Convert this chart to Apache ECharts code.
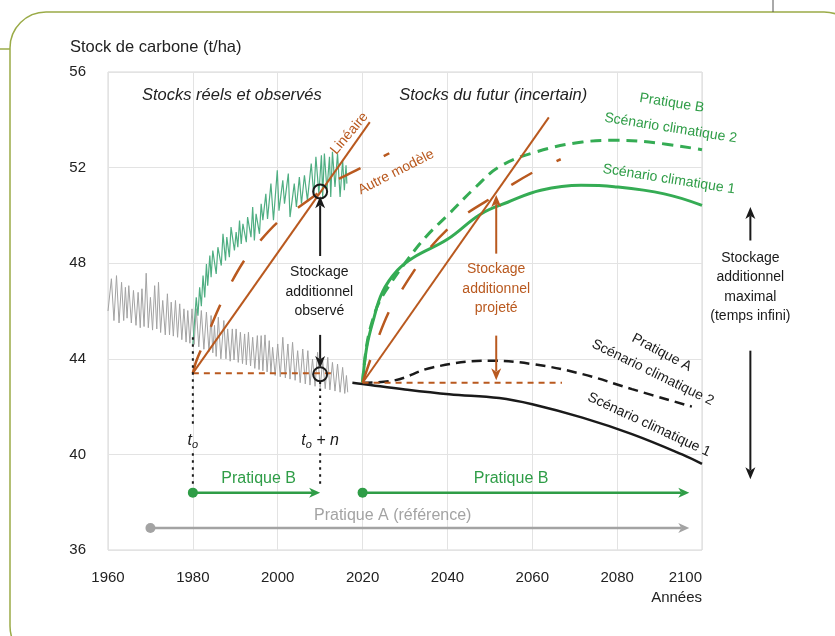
<!DOCTYPE html>
<html><head><meta charset="utf-8">
<script src="https://cdn.jsdelivr.net/npm/echarts@6/dist/echarts.min.js"></script>
<style>html,body{margin:0;padding:0;background:#fff}#c{width:835px;height:636px}</style>
</head><body><div id="c"></div>
<script>
// ---------- DATA ----------
const xTicks = [1960, 1980, 2000, 2020, 2040, 2060, 2080, 2100];
const yTicks = [36, 40, 44, 48, 52, 56];

// Pratique A, observed stocks (grey noisy series)
const grayObserved = [
 [1960.0,46.0],[1960.8,47.35],[1961.4,45.6],[1962.0,47.48],[1962.6,45.5],[1963.2,47.2],[1963.7,45.6],[1964.1,46.99],
 [1964.5,45.7],[1964.9,47.06],[1965.5,45.5],[1966.0,46.86],[1966.6,45.4],[1967.1,46.78],[1967.6,45.3],[1968.0,46.93],
 [1968.5,45.35],[1969.0,47.58],[1969.5,45.3],[1970.0,46.57],[1970.5,45.2],[1971.0,47.06],[1971.5,45.25],[1971.9,47.2],
 [1972.4,45.1],[1972.9,46.44],[1973.5,45.0],[1974.0,46.72],[1974.5,45.0],[1974.9,46.37],[1975.4,44.95],[1975.9,46.44],
 [1976.4,44.9],[1976.9,46.3],[1977.4,44.8],[1977.9,46.09],[1978.4,44.7],[1978.8,46.02],[1979.3,44.65],[1979.8,46.09],
 [1980.3,44.6],[1980.8,46.1],[1981.4,44.5],[1982.0,46.02],[1982.6,44.4],[1983.2,45.95],[1983.8,44.3],[1984.3,45.81],
 [1984.7,44.25],[1985.1,45.4],[1985.5,44.1],[1986.0,45.74],[1986.6,44.0],[1987.3,45.6],[1987.8,44.0],[1988.2,45.25],
 [1988.8,43.9],[1989.3,45.25],[1989.7,43.95],[1990.2,45.25],[1990.7,43.85],[1991.2,45.11],[1991.7,43.8],[1992.2,45.04],
 [1992.6,43.75],[1993.1,45.11],[1993.6,43.7],[1994.1,44.9],[1994.6,43.6],[1995.2,44.97],[1995.6,43.55],[1996.1,44.97],
 [1996.5,43.5],[1997.0,45.0],[1997.5,43.45],[1998.0,44.76],[1998.4,43.4],[1998.8,44.48],[1999.4,43.3],[2000.0,44.62],
 [2000.6,43.25],[2001.2,44.9],[2001.8,43.2],[2002.4,44.62],[2002.9,43.15],[2003.5,44.69],[2004.1,43.1],[2004.7,44.34],
 [2005.3,43.0],[2005.9,44.41],[2006.5,42.95],[2007.1,44.34],[2007.6,42.9],[2008.2,43.99],[2008.8,42.85],[2009.4,44.27],
 [2010.0,42.8],[2010.6,43.92],[2011.2,42.75],[2011.8,44.06],[2012.3,42.7],[2012.9,43.85],[2013.5,42.65],[2014.1,43.78],
 [2014.7,42.6],[2015.3,43.64],[2015.8,42.55],[2016.2,43.3],[2016.5,42.6]
];

// Pratique B, observed stocks (green noisy series)
const greenObserved = [
 [1980.0,44.6],[1980.8,46.57],[1981.2,45.8],[1981.6,46.99],[1982.0,46.2],[1982.4,47.48],[1982.8,46.57],[1983.2,47.97],
 [1983.5,47.06],[1984.0,48.32],[1984.3,47.41],[1984.7,48.53],[1985.5,47.55],[1985.9,48.67],[1986.7,47.9],[1987.1,49.23],
 [1987.7,48.11],[1988.0,49.09],[1988.6,48.25],[1989.0,49.51],[1989.8,48.53],[1990.2,49.3],[1990.6,48.67],[1991.0,49.79],
 [1991.4,48.81],[1991.8,49.65],[1992.6,48.88],[1992.9,49.93],[1993.7,49.09],[1994.1,50.35],[1994.5,48.95],[1994.9,50.07],
 [1995.7,49.23],[1996.1,50.49],[1996.5,49.8],[1997.2,50.9],[1997.6,49.85],[1998.4,51.33],[1999.0,49.8],[1999.9,51.89],
 [2000.3,50.2],[2001.2,51.47],[2001.6,50.49],[2002.5,51.75],[2002.9,49.93],[2003.9,51.33],[2004.4,50.35],[2005.1,51.6],
 [2005.6,50.49],[2006.3,51.68],[2007.0,50.63],[2007.9,52.17],[2008.5,50.84],[2009.0,52.45],[2009.7,50.91],[2010.3,52.52],
 [2010.6,50.77],[2011.0,52.59],[2011.6,51.05],[2012.2,52.45],[2012.5,50.77],[2012.9,52.66],[2013.5,51.19],[2014.1,52.59],
 [2014.7,50.77],[2015.3,52.31],[2015.7,51.05],[2016.1,52.1],[2016.3,51.33]
];

// Observed period models
const linearObsYears = [1980, 2021.7];
const linearObsValues = [43.4, 53.9];
const otherObsYears = [1980, 1980.8, 1983.2, 1985.8, 1988.2, 1991.7, 1995.2, 1999.9, 2004.6, 2010, 2012.2, 2015.2, 2020.9, 2026.3];
const otherObsValues = [43.4, 43.9, 44.9, 46.0, 46.9, 48.0, 48.8, 49.7, 50.3, 51.0, 51.3, 51.6, 52.1, 52.6];
const baseObsYears = [1980, 2013.7];
const baseObsValues = [43.4, 43.4];

// Future period
const linearFutYears = [2020, 2063.9];
const linearFutValues = [43.0, 54.1];
const otherFutYears = [2020, 2023.5, 2026.3, 2028.6, 2032.2, 2035.7, 2040.2, 2044.7, 2051.5, 2055.3, 2061.2, 2066.7];
const otherFutValues = [43.0, 44.8, 46.0, 46.7, 47.7, 48.6, 49.45, 50.1, 50.85, 51.3, 51.9, 52.35];
const baseFutYears = [2020, 2067];
const baseFutValues = [43.0, 43.0];

const greenS1Years = [2020, 2021, 2022.5, 2024.7, 2028.2, 2032.1, 2040, 2047.8, 2054.2, 2062, 2071.5, 2079.3, 2091.1, 2100];
const greenS1Values = [43.0, 44.5, 45.6, 46.8, 47.7, 48.25, 49.0, 50.05, 50.55, 51.05, 51.26, 51.2, 50.9, 50.42];
const greenS2Years = [2020, 2021, 2022.5, 2024, 2026.4, 2030.2, 2034.9, 2040.4, 2046.7, 2052.2, 2060.8, 2071.8, 2079.6, 2087.5, 2100];
const greenS2Values = [43.0, 44.6, 45.7, 46.4, 47.1, 48.05, 49.1, 50.07, 51.19, 52.03, 52.65, 53.07, 53.14, 53.07, 52.75];

const blackS1Years = [2017.6, 2020, 2030, 2040.4, 2052.2, 2060, 2071.8, 2083.5, 2095.3, 2100];
const blackS1Values = [43.0, 42.95, 42.72, 42.52, 42.36, 42.1, 41.54, 40.85, 40.0, 39.6];
const blackS2Years = [2020, 2027, 2036.5, 2049.9, 2060, 2071.8, 2083.5, 2097.6];
const blackS2Values = [43.0, 43.08, 43.64, 43.92, 43.78, 43.36, 42.73, 42.0];

// Practice periods (timeline arrows)
const practiceBObs = [1980, 2010];
const practiceBFut = [2020, 2097];
const practiceARef = [1970, 2097];

// ---------- CHART ----------
const FONT = "'Liberation Sans', Arial, Helvetica, sans-serif";
const ORANGE = '#b9591f', GREEN = '#35ac54', GREEN_D = '#2f9d47', TEAL = '#4fae82', GREY = '#a3a3a3', BLACK = '#1a1a1a';
const zip = (xs, ys) => xs.map((x, i) => [x, ys[i]]);

function lineSeries(data, color, width, type, smooth, z) {
  return { type: 'line', data, showSymbol: false, symbol: 'none', smooth: smooth || false, z: z || 2,
    lineStyle: { color, width, type: type || 'solid', cap: 'butt' }, emphasis: { disabled: true }, silent: true };
}

const chart = echarts.init(document.getElementById('c'));
chart.setOption({
  animation: false,
  backgroundColor: '#fff',
  grid: { left: 108, right: 133, top: 72, bottom: 86, show: true, borderColor: '#d6d6d6', borderWidth: 1 },
  xAxis: { type: 'value', min: xTicks[0], max: xTicks[xTicks.length - 1], interval: 20,
    axisLine: { show: false }, axisTick: { show: false },
    splitLine: { lineStyle: { color: '#e3e3e3', width: 1 } },
    axisLabel: { margin: 20, color: '#222', fontSize: 15, fontFamily: FONT, alignMaxLabel: 'right', formatter: v => String(v) } },
  yAxis: { type: 'value', min: yTicks[0], max: yTicks[yTicks.length - 1], interval: 4,
    axisLine: { show: false }, axisTick: { show: false },
    splitLine: { lineStyle: { color: '#e3e3e3', width: 1 } },
    axisLabel: { margin: 22, color: '#222', fontSize: 15, fontFamily: FONT, formatter: v => String(v) } },
  series: [
    lineSeries(grayObserved, GREY, 1, 'solid', false, 2),
    lineSeries(greenObserved, TEAL, 1.2, 'solid', false, 3),
    lineSeries(zip(blackS1Years, blackS1Values), BLACK, 2.5, 'solid', 0.4, 4),
    lineSeries(zip(blackS2Years, blackS2Values), BLACK, 2.5, [10, 6], 0.4, 4),
    lineSeries(zip(greenS1Years, greenS1Values), GREEN, 3, 'solid', 0.4, 5),
    lineSeries(zip(greenS2Years, greenS2Values), GREEN, 3, [11, 7], 0.4, 5),
    lineSeries(zip(baseObsYears, baseObsValues), ORANGE, 2, [6, 5], false, 6),
    lineSeries(zip(baseFutYears, baseFutValues), ORANGE, 2, [6, 5], false, 6),
    lineSeries(zip(linearObsYears, linearObsValues), ORANGE, 2, 'solid', false, 6),
    lineSeries(zip(linearFutYears, linearFutValues), ORANGE, 2, 'solid', false, 6),
    lineSeries(zip(otherObsYears, otherObsValues), ORANGE, 2.5, [24, 26], 0.3, 6),
    lineSeries(zip(otherFutYears, otherFutValues), ORANGE, 2.5, [24, 27], 0.3, 6)
  ]
});

const P = (x, y) => chart.convertToPixel({ xAxisIndex: 0, yAxisIndex: 0 }, [x, y]);

function T(pos, text, o) {
  o = o || {};
  const st = { text, fill: o.color || BLACK, fontSize: o.size || 14, fontFamily: FONT,
    fontStyle: o.italic ? 'italic' : 'normal', align: o.align || 'center', verticalAlign: 'middle', lineHeight: o.lh || 19.5 };
  if (o.rich) st.rich = o.rich;
  return { type: 'text', x: pos[0], y: pos[1], rotation: (o.rot || 0) * Math.PI / 180, z: 100, silent: true, style: st };
}
function arrow(a, b, color, width, headLen, headW) {
  const dx = b[0] - a[0], dy = b[1] - a[1], L = Math.hypot(dx, dy), ux = dx / L, uy = dy / L;
  const bx = b[0] - ux * headLen, by = b[1] - uy * headLen;
  return [
    { type: 'line', z: 100, silent: true, shape: { x1: a[0], y1: a[1], x2: bx + ux * 3, y2: by + uy * 3 }, style: { stroke: color, lineWidth: width } },
    { type: 'polygon', z: 100, silent: true, shape: { points: [[b[0], b[1]], [bx - uy * headW / 2, by + ux * headW / 2],
      [b[0] - ux * headLen * 0.72, b[1] - uy * headLen * 0.72], [bx + uy * headW / 2, by - ux * headW / 2]] }, style: { fill: color } }
  ];
}
function dotted(a, b) {
  return { type: 'line', z: 100, silent: true, shape: { x1: a[0], y1: a[1], x2: b[0], y2: b[1] }, style: { stroke: BLACK, lineWidth: 2, lineDash: [2.5, 4.5] } };
}
function dot(p, color, r) { return { type: 'circle', z: 101, silent: true, shape: { cx: p[0], cy: p[1], r }, style: { fill: color } }; }
function ring(p) { return { type: 'circle', z: 101, silent: true, shape: { cx: p[0], cy: p[1], r: 7 }, style: { fill: 'none', stroke: BLACK, lineWidth: 2 } }; }

const sub = { t: { fontSize: 16, fontStyle: 'italic', fontFamily: FONT, fill: BLACK },
  s: { fontSize: 11, fontStyle: 'italic', fontFamily: FONT, fill: BLACK, padding: [9, 0, 0, 0] },
  n: { fontSize: 16, fontStyle: 'italic', fontFamily: FONT, fill: BLACK } };

const g = [];
// frame
g.push({ type: 'rect', z: 200, silent: true, shape: { x: 10, y: 12, width: 850, height: 650, r: 36 }, style: { fill: 'none', stroke: '#9aab47', lineWidth: 1.5 } });
g.push({ type: 'line', z: 200, silent: true, shape: { x1: 0, y1: 49, x2: 10, y2: 49 }, style: { stroke: '#9aab47', lineWidth: 1.5 } });
g.push({ type: 'line', z: 200, silent: true, shape: { x1: 773, y1: 0, x2: 773, y2: 12 }, style: { stroke: '#555', lineWidth: 1 } });
// axis names
g.push({ type: 'text', x: 70, y: 47, z: 100, silent: true, style: { text: 'Stock de carbone (t/ha)', fill: '#222', fontSize: 16.5, fontFamily: FONT, align: 'left', verticalAlign: 'middle' } });
g.push({ type: 'text', x: 702, y: 598, z: 100, silent: true, style: { text: 'Années', fill: '#222', fontSize: 15, fontFamily: FONT, align: 'right', verticalAlign: 'middle' } });
// section titles
g.push(T(P(1989.2, 55.03), 'Stocks réels et observés', { size: 16.5, italic: true, color: '#222' }));
g.push(T(P(2050.8, 55.03), 'Stocks du futur (incertain)', { size: 16.5, italic: true, color: '#222' }));
// orange model labels
g.push(T(P(2016.9, 53.43), 'Linéaire', { color: ORANGE, rot: 50 }));
g.push(T(P(2027.9, 51.81), 'Autre modèle', { color: ORANGE, rot: 27 }));
// observed storage
g.push(ring(P(2010, 51.0)));
g.push(ring(P(2010, 43.35)));
g.push(...arrow(P(2010, 48.3), P(2010, 50.8), BLACK, 2, 12, 10));
g.push(...arrow(P(2010, 45.0), P(2010, 43.62), BLACK, 2, 12, 10));
g.push(T(P(2009.8, 46.8), 'Stockage\nadditionnel\nobservé', { color: BLACK }));
// projected storage
g.push(...arrow(P(2051.5, 48.4), P(2051.5, 50.85), ORANGE, 2, 12, 10));
g.push(...arrow(P(2051.5, 44.97), P(2051.5, 43.1), ORANGE, 2, 12, 10));
g.push(T(P(2051.5, 46.93), 'Stockage\nadditionnel\nprojeté', { color: ORANGE }));
// maximal storage (right margin)
g.push(...arrow(P(2111.4, 48.95), P(2111.4, 50.35), BLACK, 2, 12, 10));
g.push(...arrow(P(2111.4, 44.34), P(2111.4, 38.96), BLACK, 2, 12, 10));
g.push(T(P(2111.4, 47.0), 'Stockage\nadditionnel\nmaximal\n(temps infini)', { color: BLACK }));
// scenario labels
g.push(T(P(2092.9, 54.70), 'Pratique B', { color: GREEN_D, rot: -9 }));
g.push(T(P(2092.6, 53.65), 'Scénario climatique 2', { color: GREEN_D, rot: -9 }));
g.push(T(P(2092.2, 51.51), 'Scénario climatique 1', { color: GREEN_D, rot: -9 }));
g.push(T(P(2090.5, 44.26), 'Pratique A', { color: BLACK, rot: -28 }));
g.push(T(P(2088.4, 43.42), 'Scénario climatique 2', { color: BLACK, rot: -26 }));
g.push(T(P(2087.5, 41.24), 'Scénario climatique 1', { color: BLACK, rot: -25 }));
// t0 markers
g.push(dotted(P(1980, 44.9), P(1980, 41.1)));
g.push(dotted(P(1980, 40.05), P(1980, 38.7)));
g.push(dotted(P(2010, 43.05), P(2010, 41.1)));
g.push(dotted(P(2010, 40.05), P(2010, 38.7)));
g.push(T(P(1980, 40.57), '{t|t}{s|o}', { rich: sub }));
g.push(T(P(2010, 40.57), '{t|t}{s|o}{n| + n}', { rich: sub }));
// timeline arrows
g.push(...arrow(P(practiceBObs[0], 38.4), P(practiceBObs[1], 38.4), GREEN_D, 2.5, 11, 10), dot(P(practiceBObs[0], 38.4), GREEN_D, 5));
g.push(...arrow(P(practiceBFut[0], 38.4), P(practiceBFut[1], 38.4), GREEN_D, 2.5, 11, 10), dot(P(practiceBFut[0], 38.4), GREEN_D, 5));
g.push(...arrow(P(practiceARef[0], 36.92), P(practiceARef[1], 36.92), GREY, 2.5, 11, 10), dot(P(practiceARef[0], 36.92), GREY, 5));
g.push(T(P(1995.5, 38.99), 'Pratique B', { color: GREEN_D, size: 16 }));
g.push(T(P(2055, 38.99), 'Pratique B', { color: GREEN_D, size: 16 }));
g.push(T(P(2027.1, 37.42), 'Pratique A (référence)', { color: GREY, size: 16 }));

chart.setOption({ graphic: g });
</script>
</body></html>
